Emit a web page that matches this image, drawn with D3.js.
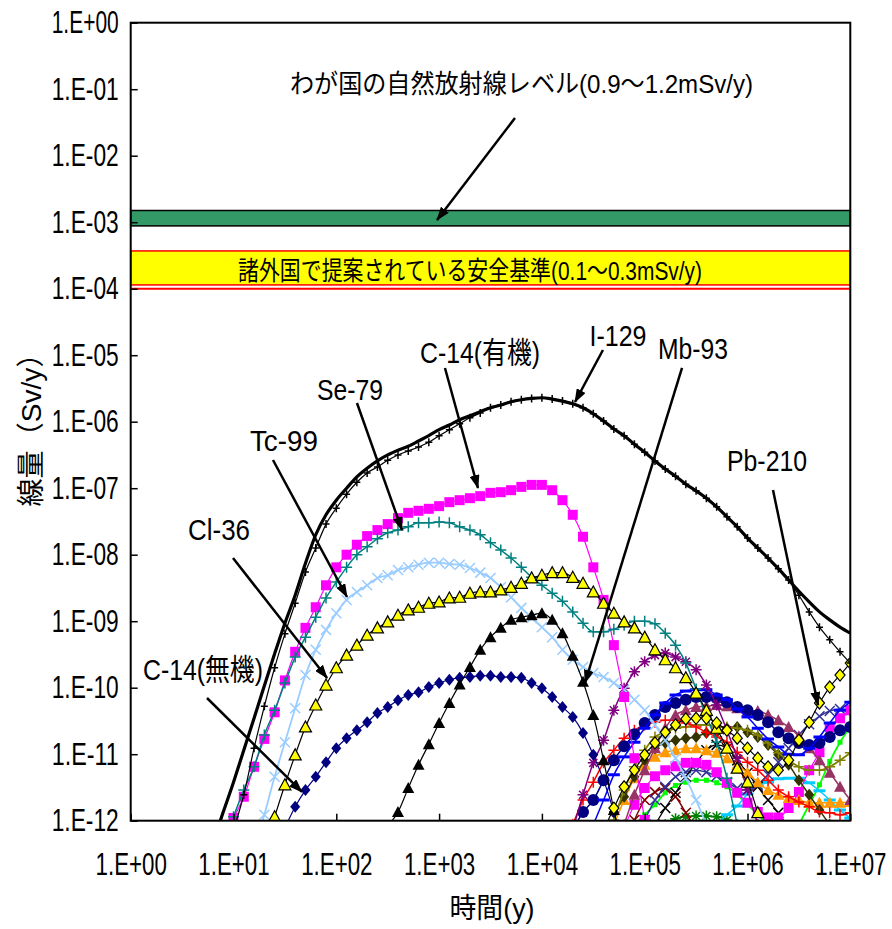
<!DOCTYPE html>
<html>
<head>
<meta charset="utf-8">
<script src="https://cdnjs.cloudflare.com/ajax/libs/d3/7.8.5/d3.min.js"></script>
<style>body{margin:0;background:#fff}</style>
</head>
<body>
<svg></svg>
<script>
const w = 892;
const h = 929;

// doses are log10(Sv/y), one value every 0.1 decade of time, first one at log10(t) = from
const total     = {from: 0.8, logDose: [-12.33,-11.87,-11.42,-10.94,-10.46,-9.97,-9.49,-9.03,-8.61,-8.13,-7.70,-7.40,-7.18,-7.00,-6.83,-6.70,-6.59,-6.50,-6.43,-6.37,-6.29,-6.21,-6.12,-6.05,-5.97,-5.91,-5.85,-5.79,-5.75,-5.70,-5.67,-5.65,-5.64,-5.66,-5.69,-5.73,-5.79,-5.88,-5.99,-6.11,-6.21,-6.34,-6.46,-6.59,-6.71,-6.82,-6.94,-7.04,-7.15,-7.28,-7.43,-7.58,-7.75,-7.90,-8.05,-8.21,-8.38,-8.55,-8.71,-8.86,-8.98,-9.09,-9.18]};
const i129      = {from: 1.0, logDose: [-12.14,-11.61,-10.91,-10.28,-9.70,-9.19,-8.73,-8.26,-7.90,-7.54,-7.30,-7.09,-6.91,-6.77,-6.68,-6.58,-6.50,-6.44,-6.38,-6.31,-6.21,-6.12,-6.03,-5.94,-5.87,-5.79,-5.75,-5.70,-5.67,-5.65,-5.64,-5.66,-5.69,-5.73,-5.79,-5.88,-5.99,-6.11,-6.21,-6.34,-6.46,-6.59,-6.71,-6.82,-6.94,-7.04,-7.15,-7.28,-7.43,-7.58,-7.75,-7.90,-8.05,-8.21,-8.38,-8.61,-8.86,-9.09,-9.28,-9.46,-9.63]};
const c14Org    = {from: 1.0, logDose: [-11.96,-11.64,-11.19,-10.77,-10.37,-9.89,-9.46,-9.10,-8.79,-8.46,-8.19,-8.00,-7.85,-7.72,-7.63,-7.54,-7.45,-7.37,-7.34,-7.31,-7.27,-7.21,-7.18,-7.15,-7.12,-7.07,-7.06,-7.03,-6.98,-6.95,-6.95,-7.03,-7.18,-7.40,-7.73,-8.19,-8.68,-9.36,-10.14,-11.06,-11.99]};
const se79      = {from: 1.0, logDose: [-11.94,-11.54,-11.19,-10.71,-10.34,-9.93,-9.54,-9.24,-8.94,-8.65,-8.41,-8.19,-8.00,-7.88,-7.76,-7.67,-7.63,-7.58,-7.52,-7.52,-7.51,-7.52,-7.58,-7.63,-7.70,-7.82,-7.93,-8.05,-8.19,-8.34,-8.46,-8.58,-8.70,-8.86,-9.03,-9.16,-9.16,-9.12,-9.06,-9.00,-9.00,-9.04,-9.18,-9.36,-9.63,-10.02,-10.43,-10.82,-11.36,-12.06]};
const tc99      = {from: 1.2, logDose: [-12.44,-11.91,-11.34,-10.82,-10.31,-9.81,-9.43,-9.13,-8.88,-8.68,-8.56,-8.46,-8.35,-8.31,-8.23,-8.19,-8.15,-8.12,-8.12,-8.14,-8.15,-8.20,-8.27,-8.35,-8.49,-8.64,-8.80,-8.95,-9.09,-9.24,-9.43,-9.58,-9.69,-9.78,-9.84,-9.93,-10.03,-10.18,-10.34,-10.56,-10.79,-11.06,-11.36,-11.69,-12.06]};
const cl36      = {from: 1.3, logDose: [-12.40,-11.94,-11.46,-11.01,-10.59,-10.26,-9.96,-9.70,-9.51,-9.36,-9.21,-9.10,-9.01,-8.91,-8.83,-8.79,-8.73,-8.71,-8.65,-8.64,-8.58,-8.56,-8.56,-8.53,-8.49,-8.43,-8.35,-8.31,-8.27,-8.27,-8.34,-8.43,-8.56,-8.73,-8.88,-9.01,-9.10,-9.24,-9.43,-9.58,-9.70,-9.85,-10.08,-10.34,-10.61,-10.91,-11.21,-11.42,-11.88]};
const c14Inorg  = {from: 1.5, logDose: [-12.11,-11.79,-11.54,-11.34,-11.12,-10.91,-10.76,-10.64,-10.52,-10.38,-10.29,-10.19,-10.11,-10.07,-9.99,-9.93,-9.88,-9.85,-9.84,-9.82,-9.82,-9.84,-9.84,-9.85,-9.93,-10.01,-10.14,-10.29,-10.44,-10.68,-11.01,-11.39,-11.87,-12.44]};
const nb93      = {from: 2.5, logDose: [-12.08,-11.87,-11.51,-11.16,-10.85,-10.53,-10.23,-9.95,-9.69,-9.43,-9.24,-9.10,-8.98,-8.94,-8.91,-8.88,-8.98,-9.18,-9.52,-9.91,-10.41,-11.09,-11.84,-12.59]};
const pb210     = {from: 4.6, logDose: [-12.14,-11.81,-11.49,-11.24,-11.01,-10.83,-10.67,-10.56,-10.47,-10.46,-10.46,-10.53,-10.64,-10.76,-10.91,-11.06,-11.19,-11.24,-11.09,-10.79,-10.52,-10.23,-9.99,-9.81,-9.63]};
const purple    = {from: 4.3, logDose: [-12.14,-11.61,-11.13,-10.79,-10.34,-10.01,-9.76,-9.61,-9.51,-9.48,-9.54,-9.61,-9.73,-9.96,-10.26,-10.64,-11.06,-11.54,-12.06]};
const blueDash  = {from: 4.5, logDose: [-12.06,-11.69,-11.31,-11.04,-10.82,-10.61,-10.41,-10.23,-10.11,-10.05,-10.03,-10.03,-10.11,-10.18,-10.32,-10.44,-10.61,-10.77,-10.89,-11.00,-11.01,-10.91,-10.74,-10.53,-10.34,-10.22]};
const navyDot   = {from: 4.3, logDose: [-12.14,-11.87,-11.69,-11.39,-11.09,-10.88,-10.70,-10.53,-10.41,-10.29,-10.23,-10.18,-10.14,-10.14,-10.16,-10.22,-10.29,-10.34,-10.41,-10.52,-10.67,-10.76,-10.83,-10.86,-10.83,-10.74,-10.64,-10.59]};
const mauve     = {from: 4.8, logDose: [-12.06,-11.61,-11.24,-10.91,-10.61,-10.41,-10.34,-10.29,-10.28,-10.26,-10.28,-10.31,-10.35,-10.35,-10.41,-10.49,-10.59,-10.73,-10.91,-11.09,-11.28,-11.49,-11.69]};
const redPlus   = {from: 4.3, logDose: [-12.06,-11.69,-11.42,-11.13,-10.94,-10.76,-10.64,-10.56,-10.52,-10.49,-10.49,-10.53,-10.59,-10.67,-10.74,-10.82,-10.97,-11.12,-11.24,-11.39,-11.54,-11.64,-11.72,-11.79,-11.87,-11.88,-11.91,-11.88]};
const olive     = {from: 4.7, logDose: [-11.99,-11.54,-11.19,-10.94,-10.74,-10.67,-10.61,-10.59,-10.56,-10.56,-10.59,-10.59,-10.61,-10.64,-10.71,-10.83,-10.98,-11.09,-11.19,-11.24,-11.24,-11.19,-11.09,-10.98]};
const darkOlive = {from: 4.7, logDose: [-11.88,-11.64,-11.34,-11.09,-10.91,-10.83,-10.79,-10.76,-10.74,-10.68,-10.67,-10.61,-10.59,-10.67,-10.74,-10.86,-11.01,-11.16,-11.39,-11.61,-11.84,-12.06]};
const orange    = {from: 4.7, logDose: [-12.06,-11.69,-11.36,-11.16,-11.04,-10.97,-10.94,-10.91,-10.91,-10.94,-10.98,-11.06,-11.16,-11.28,-11.42,-11.54,-11.61,-11.66,-11.69,-11.73,-11.73,-11.73,-11.73,-11.72]};
const blackX    = {from: 5.1, logDose: [-12.06,-11.81,-11.58,-11.34,-11.13,-10.94,-10.86,-10.91,-11.09,-11.28,-11.49,-11.69,-11.88,-12.11]};
const magenta2  = {from: 4.8, logDose: [-12.11,-11.76,-11.51,-11.33,-11.24,-11.18,-11.13,-11.13,-11.16,-11.27,-11.43,-11.58,-11.73,-11.87,-11.95,-11.95,-11.81,-11.57,-11.24,-10.97,-10.59,-10.46,-10.34]};
const cyanDash  = {from: 5.7, logDose: [-12.06,-11.91,-11.78,-11.60,-11.48,-11.42,-11.37,-11.36,-11.36,-11.43,-11.55,-11.69,-11.84,-11.96]};
const greenHump = {from: 4.9, logDose: [-12.06,-11.91,-11.76,-11.58,-11.47,-11.42,-11.39,-11.39,-11.43,-11.49,-11.61,-11.76,-11.91,-12.06]};
const greenRise = {from: 6.5, logDose: [-12.06,-11.76,-11.46,-11.11,-10.82,-10.59]};
const darkGreen = {from: 5.2, logDose: [-12.06,-11.97,-11.94,-11.93,-11.93,-11.94,-11.99,-12.08]};
const indigo    = {from: 5.0, logDose: [-11.99,-11.69,-11.49,-11.34,-11.27,-11.24,-11.27,-11.33,-11.42,-11.51,-11.54,-11.46,-11.31,-11.12,-10.91,-10.71,-10.55,-10.43,-10.35,-10.32,-10.34]};
const darkRed   = {from: 4.9, logDose: [-11.99,-11.69,-11.57,-11.51,-11.64,-11.88,-12.14]};

const naturalBand = [8.8e-4, 1.5e-3];   // Sv/y
const safetyBand = [1.14e-4, 3.7e-4];
const safetyLine = 1e-4;

const xTickValues = [1, 1e1, 1e2, 1e3, 1e4, 1e5, 1e6, 1e7];
const xTickLabels = ["1.E+00", "1.E+01", "1.E+02", "1.E+03", "1.E+04", "1.E+05", "1.E+06", "1.E+07"];
const yTickValues = [1, 1e-1, 1e-2, 1e-3, 1e-4, 1e-5, 1e-6, 1e-7, 1e-8, 1e-9, 1e-10, 1e-11, 1e-12];
const yTickLabels = ["1.E+00", "1.E-01", "1.E-02", "1.E-03", "1.E-04", "1.E-05", "1.E-06", "1.E-07", "1.E-08", "1.E-09", "1.E-10", "1.E-11", "1.E-12"];

// labels and arrows, positions in log10(t), log10(dose)
const annotations = [
    {text: "わが国の自然放射線レベル(0.9～1.2mSv/y)", at: [3.802, -1.057], len: 463, size: 26, from: [3.738, -1.433], to: [2.980, -2.967]},
    {text: "諸外国で提案されている安全基準(0.1～0.3mSv/y)", at: [3.301, -3.869], len: 464, size: 26},
    {text: "C-14(有機)", at: [3.398, -5.117], len: 120, size: 30, from: [3.057, -5.192], to: [3.378, -6.997]},
    {text: "Se-79", at: [2.133, -5.674], len: 66, size: 30, from: [2.201, -5.719], to: [2.639, -7.629]},
    {text: "Tc-99", at: [1.491, -6.441], len: 68, size: 30, from: [1.384, -6.576], to: [2.104, -8.636]},
    {text: "Cl-36", at: [0.859, -7.779], len: 62, size: 30, from: [0.995, -8.050], to: [1.910, -9.854]},
    {text: "C-14(無機)", at: [0.703, -9.884], len: 120, size: 30, from: [0.742, -10.155], to: [1.666, -11.568]},
    {text: "I-129", at: [4.740, -4.862], len: 57, size: 30, from: [4.594, -4.922], to: [4.322, -5.704]},
    {text: "Mb-93", at: [5.470, -5.057], len: 70, size: 30, from: [5.363, -5.192], to: [4.419, -9.929]},
    {text: "Pb-210", at: [6.190, -6.741], len: 80, size: 30, from: [6.248, -7.027], to: [6.686, -10.260]},
];

const font = "'Liberation Sans', Arial, 'Noto Sans CJK JP', sans-serif";

const markerPath = {
    square: "M-5,-5h10v10h-10z",
    smallSquare: "M-2.5,-2.5h5v5h-5z",
    tri: "M0,-6L6,5H-6Z",
    diamond: "M0,-6L5,0L0,6L-5,0Z",
    circle: "M6,0A6,6 0 1 1 -6,0A6,6 0 1 1 6,0Z",
    plus: "M-5.5,0H5.5M0,-5.5V5.5",
    smallPlus: "M-3.5,0H3.5M0,-4V4",
    cross: "M-5,-5L5,5M-5,5L5,-5",
    star: "M-5.5,0H5.5M0,-5.5V5.5M-4,-4L4,4M-4,4L4,-4",
    dash: "M-6,0H6",
};

// drawing order: back to front
const seriesList = [
    {d: darkGreen, color: "#008000", width: 1.8, marker: "star", stroke: "#008000"},
    {d: greenHump, color: "#00FF00", width: 1.8, marker: "smallSquare", fill: "#00FF00"},
    {d: greenRise, color: "#00FF00", width: 1.8, marker: "smallSquare", fill: "#00FF00"},
    {d: cyanDash, color: "#00CCFF", width: 1.5, marker: "dash", stroke: "#00CCFF", mw: 3},
    {d: darkRed, color: "#800000", width: 1.5, marker: "cross", stroke: "#800000"},
    {d: indigo, color: "#333399", width: 1.5, marker: "cross", stroke: "#333399"},
    {d: blackX, color: "#000000", width: 1.2, marker: "cross", stroke: "#000000"},
    {d: magenta2, color: "#FF00FF", width: 1.2, marker: "square", fill: "#FF00FF"},
    {d: orange, color: "#FF9900", width: 1.5, marker: "tri", fill: "#FF9900"},
    {d: darkOlive, color: "#333300", width: 1.5, marker: "diamond", fill: "#333300"},
    {d: olive, color: "#808000", width: 1.8, marker: "plus", stroke: "#808000"},
    {d: redPlus, color: "#FF0000", width: 1.5, marker: "plus", stroke: "#FF0000"},
    {d: mauve, color: "#993366", width: 1.5, marker: "tri", fill: "#993366"},
    {d: navyDot, color: "#000080", width: 1.5, marker: "circle", fill: "#000080"},
    {d: blueDash, color: "#0000FF", width: 1.5, marker: "dash", stroke: "#0000FF", mw: 3},
    {d: purple, color: "#800080", width: 1.5, marker: "star", stroke: "#800080"},
    {d: tc99, color: "#99CCFF", width: 1.8, marker: "cross", stroke: "#99CCFF"},
    {d: c14Org, color: "#FF00FF", width: 1.2, marker: "square", fill: "#FF00FF"},
    {d: se79, color: "#008080", width: 1.5, marker: "plus", stroke: "#008080"},
    {d: cl36, color: "#000000", width: 1.2, marker: "tri", fill: "#FFFF00", stroke: "#000000", mw: 1.2},
    {d: c14Inorg, color: "#000080", width: 1.2, marker: "diamond", fill: "#000080"},
    {d: nb93, color: "#000000", width: 1.2, marker: "tri", fill: "#000000"},
    {d: pb210, color: "#000000", width: 1.2, marker: "diamond", fill: "#FFFF00", stroke: "#000000", mw: 1.2},
    {d: i129, color: "#000000", width: 1.2, marker: "smallPlus", stroke: "#000000"},
    {d: total, color: "#000000", width: 3.2},
];

const svg = d3.select("svg").attr("width", w).attr("height", h);
svg.append("rect").attr("width", w).attr("height", h).attr("fill", "white");

const x = d3.scaleLog().domain([1, 1e7]).range([130.7, 850.3]);
const y = d3.scaleLog().domain([1e-12, 1]).range([820.7, 22.7]);
const px = v => x(10 ** v);
const py = v => y(10 ** v);

const defs = svg.append("defs");
defs.append("clipPath").attr("id", "plot")
    .append("rect")
    .attr("x", x(1)).attr("y", y(1))
    .attr("width", x(1e7) - x(1)).attr("height", y(1e-12) - y(1));
defs.append("marker")
    .attr("id", "head")
    .attr("viewBox", "0 0 14 10")
    .attr("refX", 13).attr("refY", 5)
    .attr("markerWidth", 14).attr("markerHeight", 10)
    .attr("markerUnits", "userSpaceOnUse")
    .attr("orient", "auto")
    .append("path").attr("d", "M0,0L14,5L0,10Z").attr("fill", "#000");

// reference bands
svg.append("rect")
    .attr("x", x(1)).attr("width", x(1e7) - x(1))
    .attr("y", y(naturalBand[1])).attr("height", y(naturalBand[0]) - y(naturalBand[1]))
    .attr("fill", "#339966").attr("stroke", "#000").attr("stroke-width", 1.5);
svg.append("rect")
    .attr("x", x(1)).attr("width", x(1e7) - x(1))
    .attr("y", y(safetyBand[1])).attr("height", y(safetyBand[0]) - y(safetyBand[1]))
    .attr("fill", "#FFFF00").attr("stroke", "#FF0000").attr("stroke-width", 1.5);
svg.append("line")
    .attr("x1", x(1)).attr("x2", x(1e7))
    .attr("y1", y(safetyLine)).attr("y2", y(safetyLine))
    .attr("stroke", "#FF0000").attr("stroke-width", 2);

// curves
const g = svg.append("g").attr("clip-path", "url(#plot)");
const line = d3.line().curve(d3.curveMonotoneX);

seriesList.forEach(s => {
    const pts = s.d.logDose.map((v, i) => [px((s.d.from * 10 + i) / 10), py(v)]);
    g.append("path")
        .attr("d", line(pts))
        .attr("fill", "none")
        .attr("stroke", s.color)
        .attr("stroke-width", s.width);
    if (!s.marker) return;
    g.append("g").selectAll("path")
        .data(pts)
        .join("path")
        .attr("transform", d => `translate(${d[0]},${d[1]})`)
        .attr("d", markerPath[s.marker])
        .attr("fill", s.fill || "none")
        .attr("stroke", s.stroke || "none")
        .attr("stroke-width", s.mw || 1.5);
});

// axes
const yAxis = svg.append("g")
    .attr("transform", `translate(${x(1)},0)`)
    .call(d3.axisLeft(y).tickValues(yTickValues).tickFormat((d, i) => yTickLabels[i])
        .tickSizeInner(-7).tickSizeOuter(0).tickPadding(12));
const xAxis = svg.append("g")
    .attr("transform", `translate(0,${y(1e-12)})`)
    .call(d3.axisBottom(x).tickValues(xTickValues).tickFormat((d, i) => xTickLabels[i])
        .tickSizeInner(-7).tickSizeOuter(0).tickPadding(32));

[xAxis, yAxis].forEach(a => {
    a.select(".domain").remove();
    a.selectAll("line").attr("stroke", "#000").attr("stroke-width", 1.5);
    a.selectAll("text")
        .attr("fill", "#000")
        .attr("font-family", font)
        .attr("font-size", 31);
});
yAxis.selectAll("text")
    .attr("textLength", 67)
    .attr("lengthAdjust", "spacingAndGlyphs");
// condensed labels on the time axis, squeezed around their own centre
xAxis.selectAll("text").attr("transform", "scale(0.72,1)");

svg.append("rect")
    .attr("x", x(1)).attr("y", y(1))
    .attr("width", x(1e7) - x(1)).attr("height", y(1e-12) - y(1))
    .attr("fill", "none").attr("stroke", "#000").attr("stroke-width", 2);

// titles
svg.append("text")
    .attr("transform", "translate(41,423) rotate(-90)")
    .attr("text-anchor", "middle")
    .attr("font-family", font).attr("font-size", 28)
    .attr("textLength", 167).attr("lengthAdjust", "spacingAndGlyphs")
    .text("線量（Sv/y）");
svg.append("text")
    .attr("x", 492).attr("y", 918)
    .attr("text-anchor", "middle")
    .attr("font-family", font).attr("font-size", 28)
    .attr("textLength", 85).attr("lengthAdjust", "spacingAndGlyphs")
    .text("時間(y)");

// annotations
annotations.forEach(a => {
    svg.append("text")
        .attr("x", px(a.at[0])).attr("y", py(a.at[1]))
        .attr("text-anchor", "middle")
        .attr("font-family", font).attr("font-size", a.size)
        .attr("textLength", a.len).attr("lengthAdjust", "spacingAndGlyphs")
        .text(a.text);
    if (a.from) {
        svg.append("line")
            .attr("x1", px(a.from[0])).attr("y1", py(a.from[1]))
            .attr("x2", px(a.to[0])).attr("y2", py(a.to[1]))
            .attr("stroke", "#000").attr("stroke-width", 2.5)
            .attr("marker-end", "url(#head)");
    }
});
</script>
</body>
</html>
